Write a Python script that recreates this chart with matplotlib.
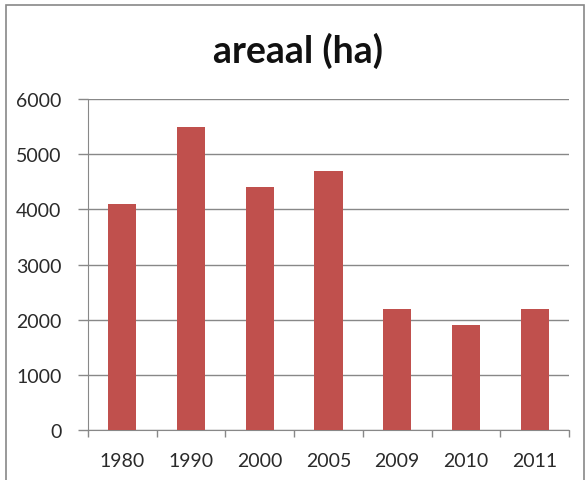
import matplotlib.pyplot as plt
from matplotlib.patches import Rectangle

years = ["1980", "1990", "2000", "2005", "2009", "2010", "2011"]
areaal = [4100, 5500, 4400, 4700, 2200, 1900, 2200]
y_ticks = [0, 1000, 2000, 3000, 4000, 5000, 6000]

plt.rcParams["font.family"] = ["Lato", "DejaVu Sans"]

fig = plt.figure(figsize=(5.85, 4.81), dpi=100)
ax = fig.add_axes([0.150, 0.104, 0.823, 0.688])

x = list(range(len(years)))
ax.bar(x, areaal, width=0.41, color="#C0504D", zorder=3)

ax.set_xlim(-0.5, len(years) - 0.5)
ax.set_ylim(0, 6000)
ax.set_yticks(y_ticks)
ax.set_yticklabels([str(v) for v in y_ticks], fontsize=14, color="#2a2a2a")
ax.set_xticks(x)
ax.set_xticklabels(years, fontsize=14, color="#2a2a2a")
ax.tick_params(axis="x", length=0, pad=16)
ax.tick_params(axis="y", length=7, width=1, color="#888888", pad=12)
# category separator ticks on the x axis
ax.set_xticks([i - 0.5 for i in range(len(years) + 1)], minor=True)
ax.tick_params(axis="x", which="minor", length=5, width=1, color="#888888")

ax.grid(axis="y", color="#888888", linewidth=1, zorder=0)
for side in ["top", "right"]:
    ax.spines[side].set_visible(False)
for side in ["left", "bottom"]:
    ax.spines[side].set_color("#888888")

fig.text(0.51, 0.895, "areaal (ha)", ha="center", va="center",
         fontsize=27, fontweight="bold", color="#111111")

# outer chart border
fig.patches.append(Rectangle((6 / 585, -0.01), 578 / 585, 1 - 6 / 481 + 0.01,
                             transform=fig.transFigure, fill=False,
                             edgecolor="#888888", linewidth=1.2))

fig.savefig("out.png", dpi=100)
